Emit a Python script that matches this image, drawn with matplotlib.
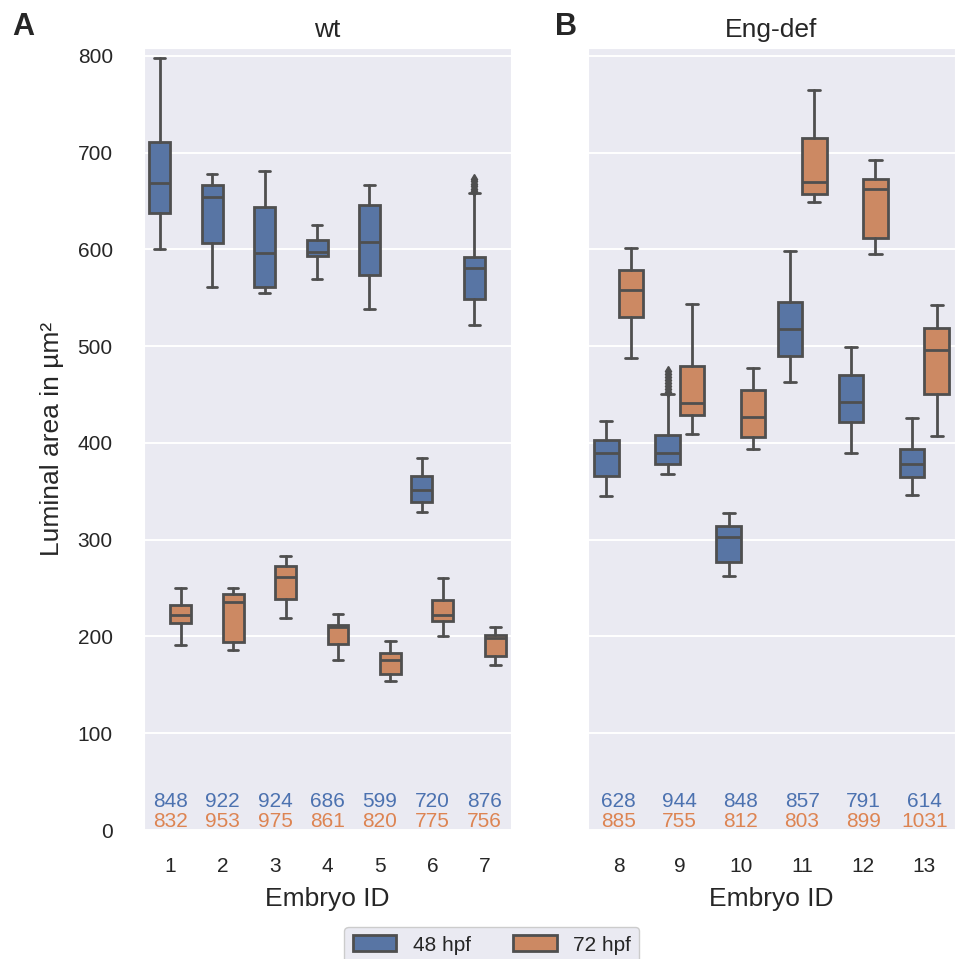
import numpy as np
import matplotlib
matplotlib.use('Agg')
import matplotlib.pyplot as plt
from matplotlib.patches import Patch
import seaborn as sns

sns.set_style('darkgrid')
plt.rcParams['font.family'] = ['Liberation Sans', 'DejaVu Sans']

# embryo ids per group
wt_ids = [1, 2, 3, 4, 5, 6, 7]
eng_ids = [8, 9, 10, 11, 12, 13]

# wt, 48 hpf box stats
wt48_lo = [600, 561, 555, 569, 538, 329, 522]
wt48_q1 = [638, 607, 561, 593, 574, 339, 549]
wt48_med = [669, 654, 596, 597, 608, 351, 581]
wt48_q3 = [711, 667, 644, 610, 646, 366, 592]
wt48_hi = [798, 678, 681, 625, 666, 384, 658]
wt48_fliers = [[], [], [], [], [], [], [660, 662, 665, 668, 671, 673]]

# wt, 72 hpf
wt72_lo = [191, 186, 219, 176, 154, 200, 170]
wt72_q1 = [214, 194, 239, 192, 161, 216, 180]
wt72_med = [222, 236, 261, 210, 176, 222, 198]
wt72_q3 = [232, 244, 273, 212, 183, 238, 202]
wt72_hi = [250, 250, 283, 223, 195, 260, 210]
wt72_fliers = [[], [], [], [], [], [], []]

# Eng-def, 48 hpf
eng48_lo = [345, 368, 262, 463, 390, 346]
eng48_q1 = [366, 378, 277, 490, 422, 365]
eng48_med = [390, 390, 303, 518, 442, 378]
eng48_q3 = [403, 408, 314, 546, 470, 394]
eng48_hi = [423, 451, 328, 598, 499, 426]
eng48_fliers = [[], [453, 456, 459, 462, 465, 468, 471, 474], [], [], [], []]

# Eng-def, 72 hpf
eng72_lo = [488, 409, 394, 649, 595, 407]
eng72_q1 = [530, 429, 406, 657, 612, 451]
eng72_med = [558, 441, 427, 670, 662, 496]
eng72_q3 = [579, 479, 455, 715, 673, 519]
eng72_hi = [601, 544, 477, 765, 692, 543]
eng72_fliers = [[], [], [], [], [], []]

# number of measurements per embryo
wt_n48 = [848, 922, 924, 686, 599, 720, 876]
wt_n72 = [832, 953, 975, 861, 820, 775, 756]
eng_n48 = [628, 944, 848, 857, 791, 614]
eng_n72 = [885, 755, 812, 803, 899, 1031]

hpf_labels = ['48 hpf', '72 hpf']
face_colors = ['#5875a4', '#cc8963']
text_colors = ['#4c72b0', '#dd8452']
line_gray = '#4f4f4f'


def make_stats(lo, q1, med, q3, hi, fliers):
    stats = []
    for i in range(len(med)):
        stats.append({'whislo': lo[i], 'q1': q1[i], 'med': med[i], 'q3': q3[i],
                      'whishi': hi[i], 'fliers': fliers[i]})
    return stats


def draw_panel(ax, ids, groups, counts, title):
    pos = np.arange(len(ids))
    for k, g in enumerate(groups):
        stats = make_stats(*g)
        ax.bxp(stats, positions=pos + (k - 0.5) * 0.4, widths=0.4, patch_artist=True,
               boxprops=dict(facecolor=face_colors[k], edgecolor=line_gray, linewidth=2),
               medianprops=dict(color=line_gray, linewidth=2),
               whiskerprops=dict(color=line_gray, linewidth=2),
               capprops=dict(color=line_gray, linewidth=2),
               flierprops=dict(marker='d', markerfacecolor=line_gray, markeredgecolor=line_gray,
                               markersize=5))
    for i in range(len(ids)):
        ax.text(pos[i], 24, str(counts[0][i]), color=text_colors[0], ha='center', va='baseline', fontsize=15)
        ax.text(pos[i], 3.5, str(counts[1][i]), color=text_colors[1], ha='center', va='baseline', fontsize=15)
    ax.set_xticks(pos)
    ax.set_xticklabels([str(i) for i in ids])
    ax.set_xlim(-0.5, len(ids) - 0.5)
    ax.set_ylim(0, 808)
    ax.set_yticks(range(0, 801, 100))
    ax.grid(axis='x', visible=False)
    ax.grid(axis='y', color='white', linewidth=1.4)
    ax.tick_params(axis='x', labelsize=15, pad=16)
    ax.tick_params(axis='y', labelsize=15, pad=19)
    ax.set_xlabel('Embryo ID', fontsize=19, labelpad=8)
    ax.set_title(title, fontsize=19, pad=8)


fig = plt.figure(figsize=(9.55, 9.59), dpi=100)
ax1 = fig.add_axes([0.1508, 0.1345, 0.3843, 0.8154])
ax2 = fig.add_axes([0.6157, 0.1345, 0.3843, 0.8154], sharey=ax1)

draw_panel(ax1, wt_ids,
           [(wt48_lo, wt48_q1, wt48_med, wt48_q3, wt48_hi, wt48_fliers),
            (wt72_lo, wt72_q1, wt72_med, wt72_q3, wt72_hi, wt72_fliers)],
           [wt_n48, wt_n72], 'wt')
draw_panel(ax2, eng_ids,
           [(eng48_lo, eng48_q1, eng48_med, eng48_q3, eng48_hi, eng48_fliers),
            (eng72_lo, eng72_q1, eng72_med, eng72_q3, eng72_hi, eng72_fliers)],
           [eng_n48, eng_n72], 'Eng-def')

ax1.set_ylabel('Luminal area in µm²', fontsize=19, labelpad=10)
plt.setp(ax2.get_yticklabels(), visible=False)

fig.text(0.0126, 0.9635, 'A', fontsize=22, fontweight='bold', va='baseline')
fig.text(0.581, 0.9635, 'B', fontsize=22, fontweight='bold', va='baseline')

handles = [Patch(facecolor=face_colors[k], edgecolor=line_gray, linewidth=2, label=hpf_labels[k])
           for k in range(2)]
fig.legend(handles=handles, loc='upper center', bbox_to_anchor=(0.515, 0.0334), ncol=2,
           fontsize=15, frameon=True, facecolor='#eaeaf2', edgecolor='0.8', framealpha=1,
           borderaxespad=0, handlelength=2.1, handleheight=0.8, handletextpad=0.77,
           columnspacing=2.05, borderpad=0.4)

fig.savefig('out.png', dpi=100)
